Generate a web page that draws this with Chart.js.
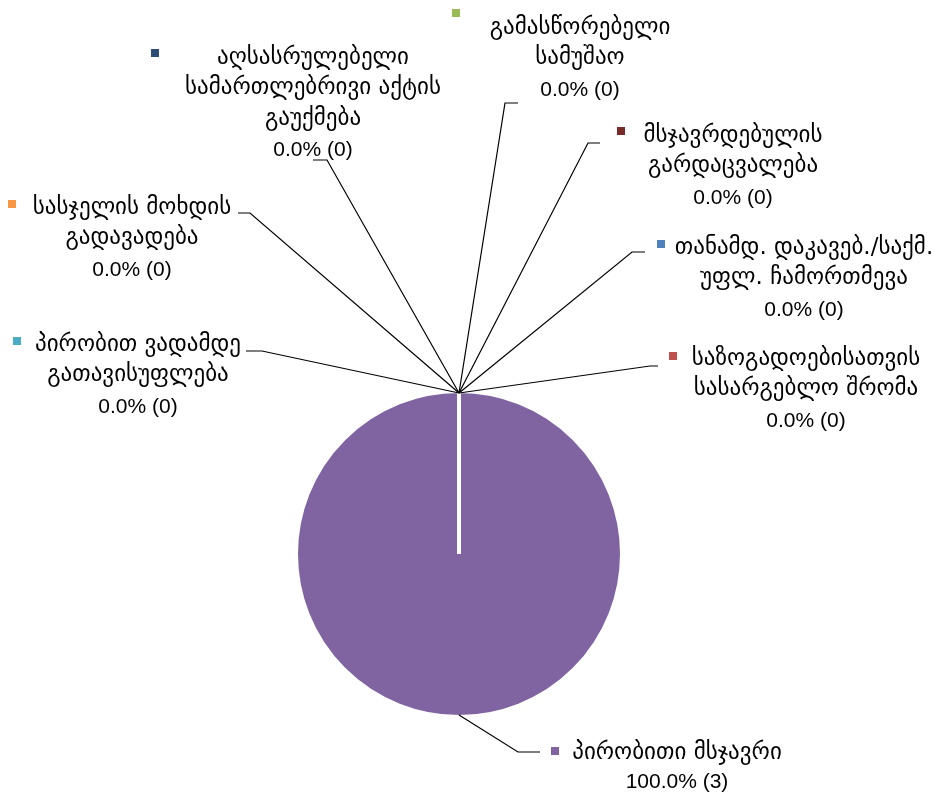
<!DOCTYPE html>
<html>
<head>
<meta charset="utf-8">
<script src="https://cdn.jsdelivr.net/npm/chart.js@4.4.1/dist/chart.umd.min.js"></script>
<style>
  html, body { margin: 0; padding: 0; background: #ffffff; }
  #wrap { width: 932px; height: 796px; position: relative; }
</style>
</head>
<body>
<div id="wrap"><canvas id="c" width="932" height="796"></canvas></div>
<script>
// ---- data ----
const categories = [
  ["თანამდ. დაკავებ./საქმ.", "უფლ. ჩამორთმევა"],
  ["საზოგადოებისათვის", "სასარგებლო შრომა"],
  ["გამასწორებელი", "სამუშაო"],
  ["პირობითი მსჯავრი"],
  ["პირობით ვადამდე", "გათავისუფლება"],
  ["სასჯელის მოხდის", "გადავადება"],
  ["აღსასრულებელი", "სამართლებრივი აქტის", "გაუქმება"],
  ["მსჯავრდებულის", "გარდაცვალება"]
];
const counts = [0, 0, 0, 3, 0, 0, 0, 0];
const sliceColors = ["#4F81BD", "#C0504D", "#9BBB59", "#8064A2", "#4BACC6", "#F79646", "#2C4D75", "#772C2A"];

// ---- label layout (offsets from pie centre, in px at radius 161) ----
const labelLayout = [
  { tx: 345, ty: -306, mx: 202, my: -310, ex: 173, ey: -302, hx: 186 },
  { tx: 347, ty: -195, mx: 214, my: -198, ex: 191, ey: -188, hx: 199 },
  { tx: 121, ty: -526, mx: -3,  my: -541, ex: 46,  ey: -451, hx: 59 },
  { tx: 218, ty: 199,  mx: 96,  my: 197,  ex: 59,  ey: 198,  hx: 81, lh: 28 },
  { tx: -321, ty: -209, mx: -442, my: -213, ex: -197, ey: -203, hx: -213 },
  { tx: -327, ty: -346, mx: -447, my: -350, ex: -209, ey: -341, hx: -221 },
  { tx: -146, ty: -496, mx: -304, my: -501, ex: -132, ey: -394, hx: -146 },
  { tx: 274, ty: -418, mx: 162, my: -423, ex: 129, ey: -411, hx: 141 }
];
const FONT_KA = '23px "DejaVu Sans", sans-serif';
const FONT_NUM = '21px "Liberation Sans", "DejaVu Sans", sans-serif';
const BORDER = 4;

const labelPlugin = {
  id: 'outLabels',
  afterDatasetsDraw(chart) {
    const ctx = chart.ctx;
    const meta = chart.getDatasetMeta(0);
    const total = counts.reduce((a, b) => a + b, 0);
    ctx.save();
    meta.data.forEach((arc, i) => {
      const p = arc.getProps(['x', 'y', 'startAngle', 'endAngle', 'outerRadius'], true);
      const cx = p.x, cy = p.y;
      const r = p.outerRadius - BORDER / 2;
      const s = r / 161;
      const mid = (p.startAngle + p.endAngle) / 2;
      const ax = cx + r * Math.cos(mid), ay = cy + r * Math.sin(mid);
      const L = labelLayout[i];
      // leader line
      ctx.strokeStyle = '#000000';
      ctx.lineWidth = 1.2;
      ctx.beginPath();
      ctx.moveTo(ax, ay);
      ctx.lineTo(cx + L.ex * s, cy + L.ey * s);
      ctx.lineTo(cx + L.hx * s, cy + L.ey * s);
      ctx.stroke();
      // marker
      ctx.fillStyle = sliceColors[i];
      ctx.fillRect(cx + L.mx * s - 4, cy + L.my * s - 4, 8, 8);
      // text
      const pct = total ? (counts[i] / total * 100) : 0;
      const valueLine = pct.toFixed(1) + '% (' + counts[i] + ')';
      const lines = categories[i].concat([valueLine]);
      ctx.fillStyle = '#000000';
      ctx.textAlign = 'center';
      ctx.textBaseline = 'middle';
      const lh = L.lh || 30.5;
      lines.forEach((t, k) => {
        const isNum = k === lines.length - 1;
        ctx.font = isNum ? FONT_NUM : FONT_KA;
        ctx.fillText(t, cx + L.tx * s, cy + L.ty * s + k * lh + (isNum ? 1 : 0));
      });
    });
    ctx.restore();
  }
};

new Chart(document.getElementById('c'), {
  type: 'pie',
  data: {
    labels: categories,
    datasets: [{
      data: counts,
      backgroundColor: sliceColors,
      borderColor: '#ffffff',
      borderWidth: BORDER,
      hoverOffset: 0
    }]
  },
  options: {
    responsive: false,
    animation: false,
    events: [],
    rotation: 0,
    layout: { padding: { left: 294, right: 308, top: 389, bottom: 77 } },
    plugins: {
      legend: { display: false },
      tooltip: { enabled: false }
    }
  },
  plugins: [labelPlugin]
});
</script>
</body>
</html>
